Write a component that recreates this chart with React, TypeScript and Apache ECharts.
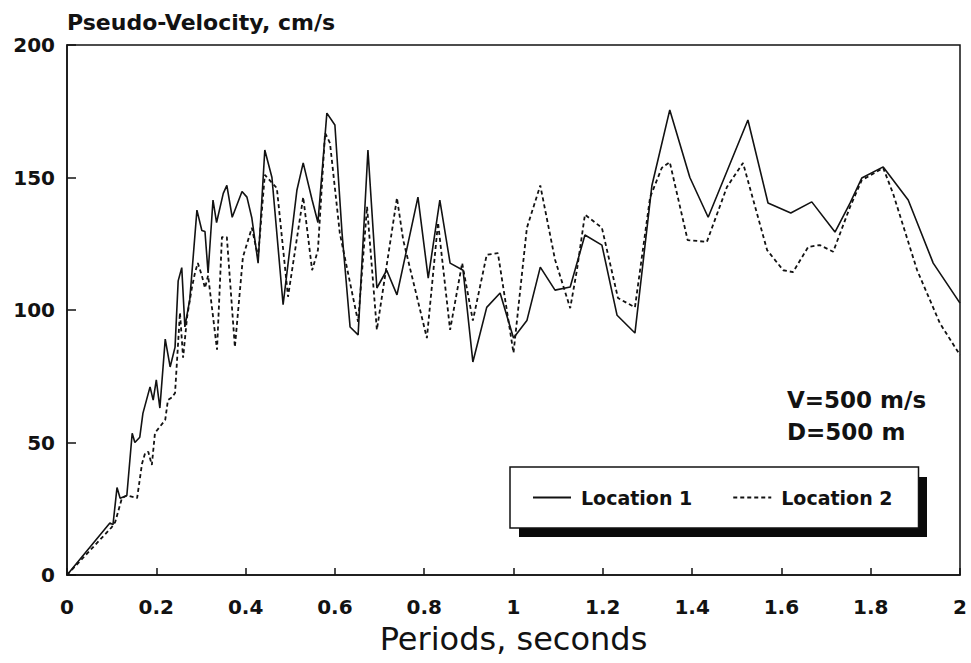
import React, { useEffect, useRef } from "react";
import * as echarts from "echarts";

// Location 1 (solid): periods (s) and pseudo-velocity (cm/s)
const loc1Periods = [
  0, 0.096, 0.103, 0.112, 0.119, 0.134, 0.146, 0.152, 0.163, 0.17, 0.186, 0.193, 0.2, 0.208,
  0.22, 0.231, 0.242, 0.249, 0.257, 0.264, 0.275, 0.291, 0.302, 0.309, 0.316, 0.327, 0.335,
  0.35, 0.358, 0.37, 0.392, 0.403, 0.414, 0.428, 0.443, 0.459, 0.484, 0.515, 0.529, 0.549,
  0.562, 0.582, 0.6, 0.616, 0.634, 0.652, 0.674, 0.694, 0.716, 0.739, 0.786, 0.809, 0.835,
  0.858, 0.887, 0.909, 0.94, 0.97, 1.0, 1.03, 1.06, 1.093, 1.127, 1.16, 1.198, 1.232, 1.272,
  1.31, 1.35, 1.395, 1.436, 1.525, 1.57, 1.621, 1.668, 1.72, 1.754, 1.78, 1.828, 1.884, 1.94, 2.0,
];
const loc1Velocity = [
  0, 19.6, 19, 33, 29, 30, 53.5, 50, 52, 61, 71, 66, 73.6, 63,
  89, 78.5, 86, 111, 116, 93.6, 104, 137.7, 130, 129.6, 114, 141.5, 133,
  144, 147, 135, 144.7, 142.6, 134.7, 117.7, 160.4, 150, 102, 145.3, 155.5, 141.5,
  133, 174.3, 169.8, 129, 93.6, 90.6, 160.4, 108.3, 115, 105.7, 142.6, 112, 141.5,
  117.7, 115, 80.4, 101, 106.4, 89.4, 96, 116.2, 107.5, 108.7, 128.3, 124.5, 98, 91.3,
  147, 175.5, 150, 135, 171.7, 140.4, 136.6, 140.8, 129.4, 140.4, 149.8, 154, 141.5, 117.7, 102.6,
];

// Location 2 (dashed)
const loc2Periods = [
  0, 0.1, 0.108, 0.123, 0.134, 0.157, 0.168, 0.175, 0.182, 0.19, 0.197, 0.22, 0.226, 0.235,
  0.242, 0.253, 0.26, 0.269, 0.28, 0.287, 0.293, 0.302, 0.309, 0.316, 0.336, 0.347, 0.358,
  0.376, 0.394, 0.414, 0.428, 0.443, 0.47, 0.495, 0.529, 0.549, 0.562, 0.578, 0.589, 0.611,
  0.652, 0.672, 0.694, 0.739, 0.753, 0.806, 0.831, 0.858, 0.885, 0.909, 0.94, 0.965, 1.0,
  1.03, 1.06, 1.093, 1.127, 1.142, 1.16, 1.198, 1.234, 1.272, 1.306, 1.332, 1.35, 1.39,
  1.433, 1.478, 1.514, 1.568, 1.604, 1.626, 1.66, 1.686, 1.716, 1.754, 1.78, 1.828, 1.85,
  1.904, 1.955, 2.0,
];
const loc2Velocity = [
  0, 18, 20, 29, 30, 29, 42, 46, 46.5, 41.5, 53.6, 58.5, 66, 67,
  68.7, 99, 82, 97.4, 108.7, 114.3, 117.7, 113, 108.3, 113, 85, 127.5, 127.5,
  86, 120, 131, 120, 151, 146, 105, 142.6, 115, 122.6, 166.8, 163, 129,
  95.5, 139, 92.5, 142.3, 126.4, 89.4, 133, 92.5, 117.7, 96, 120.8, 121.5, 83.8,
  131, 147, 119, 100.7, 115, 136, 131, 104.5, 101, 142.6, 153.6, 155.8, 126.4,
  125.7, 146.4, 155.5, 122.6, 115, 114.3, 123.8, 124.5, 122, 139, 149, 153.6, 144,
  115, 95, 83,
];

const seriesNames = ["Location 1", "Location 2"];
const xTickInterval = 0.2;
const yTickInterval = 50;
const noteLines = ["V=500 m/s", "D=500 m"];

const FONT = "DejaVu Sans";
const INK = "#121212";

export default function App() {
  const ref = useRef<HTMLDivElement>(null);

  useEffect(() => {
    if (!ref.current) return;
    const chart = echarts.init(ref.current, undefined, { renderer: "svg" });
    const pair = (xs: number[], ys: number[]) => xs.map((x, i) => [x, ys[i]]);

    chart.setOption({
      animation: false,
      backgroundColor: "#ffffff",
      grid: {
        left: 67,
        right: 11,
        top: 45,
        bottom: 88,
        show: true,
        borderColor: INK,
        borderWidth: 1.5,
        backgroundColor: "transparent",
      },
      xAxis: {
        type: "value",
        min: 0,
        max: 2,
        interval: xTickInterval,
        name: "Periods, seconds",
        nameLocation: "middle",
        nameGap: 48,
        nameMoveOverlap: false,
        nameTextStyle: { fontFamily: FONT, fontSize: 32, color: INK },
        axisLine: { show: true, lineStyle: { color: INK, width: 1.5 } },
        axisTick: { show: true, inside: true, length: 7, lineStyle: { color: INK, width: 1.5 } },
        axisLabel: {
          fontFamily: FONT,
          fontWeight: "bold",
          fontSize: 20,
          color: INK,
          margin: 22,
        },
        splitLine: { show: false },
      },
      yAxis: {
        type: "value",
        min: 0,
        max: 200,
        interval: yTickInterval,
        name: "Pseudo-Velocity, cm/s",
        nameLocation: "end",
        nameGap: 12,
        nameTextStyle: {
          fontFamily: FONT,
          fontWeight: "bold",
          fontSize: 22,
          color: INK,
          align: "left",
          verticalAlign: "bottom",
        },
        axisLine: { show: true, lineStyle: { color: INK, width: 1.5 } },
        axisTick: { show: true, inside: true, length: 9, lineStyle: { color: INK, width: 1.5 } },
        axisLabel: {
          fontFamily: FONT,
          fontWeight: "bold",
          fontSize: 20,
          color: INK,
          margin: 12,
        },
        splitLine: { show: false },
      },
      legend: {
        left: 510,
        top: 467,
        orient: "horizontal",
        padding: [21, 26, 21, 22],
        itemWidth: 38,
        itemHeight: 14,
        itemGap: 40,
        backgroundColor: "#ffffff",
        borderColor: INK,
        borderWidth: 1.5,
        z: 10,
        data: seriesNames,
        itemStyle: { color: "transparent", borderColor: "transparent", borderWidth: 0, opacity: 0 },
        textStyle: {
          fontFamily: FONT,
          fontWeight: "bold",
          fontSize: 19,
          color: INK,
          padding: [0, 0, 0, 5],
        },
      },
      graphic: [
        {
          type: "rect",
          z: 5,
          shape: { x: 519, y: 477, width: 408, height: 60 },
          style: { fill: "#0a0a0a" },
        },
        {
          type: "text",
          left: 787,
          top: 388,
          style: {
            text: noteLines[0],
            font: `bold 23px "${FONT}"`,
            fill: INK,
          },
        },
        {
          type: "text",
          left: 787,
          top: 420,
          style: {
            text: noteLines[1],
            font: `bold 23px "${FONT}"`,
            fill: INK,
          },
        },
      ],
      series: [
        {
          name: seriesNames[0],
          type: "line",
          data: pair(loc1Periods, loc1Velocity),
          showSymbol: false,
          symbol: "none",
          lineStyle: { color: INK, width: 1.6, type: "solid" },
          itemStyle: { color: INK },
          z: 3,
        },
        {
          name: seriesNames[1],
          type: "line",
          data: pair(loc2Periods, loc2Velocity),
          showSymbol: false,
          symbol: "none",
          lineStyle: { color: INK, width: 1.8, type: [4, 3] },
          itemStyle: { color: INK },
          z: 2,
        },
      ],
    });

    return () => chart.dispose();
  }, []);

  return (
    <div
      ref={ref}
      style={{ position: "fixed", left: 0, top: 0, width: 971, height: 663, background: "#fff" }}
    />
  );
}
